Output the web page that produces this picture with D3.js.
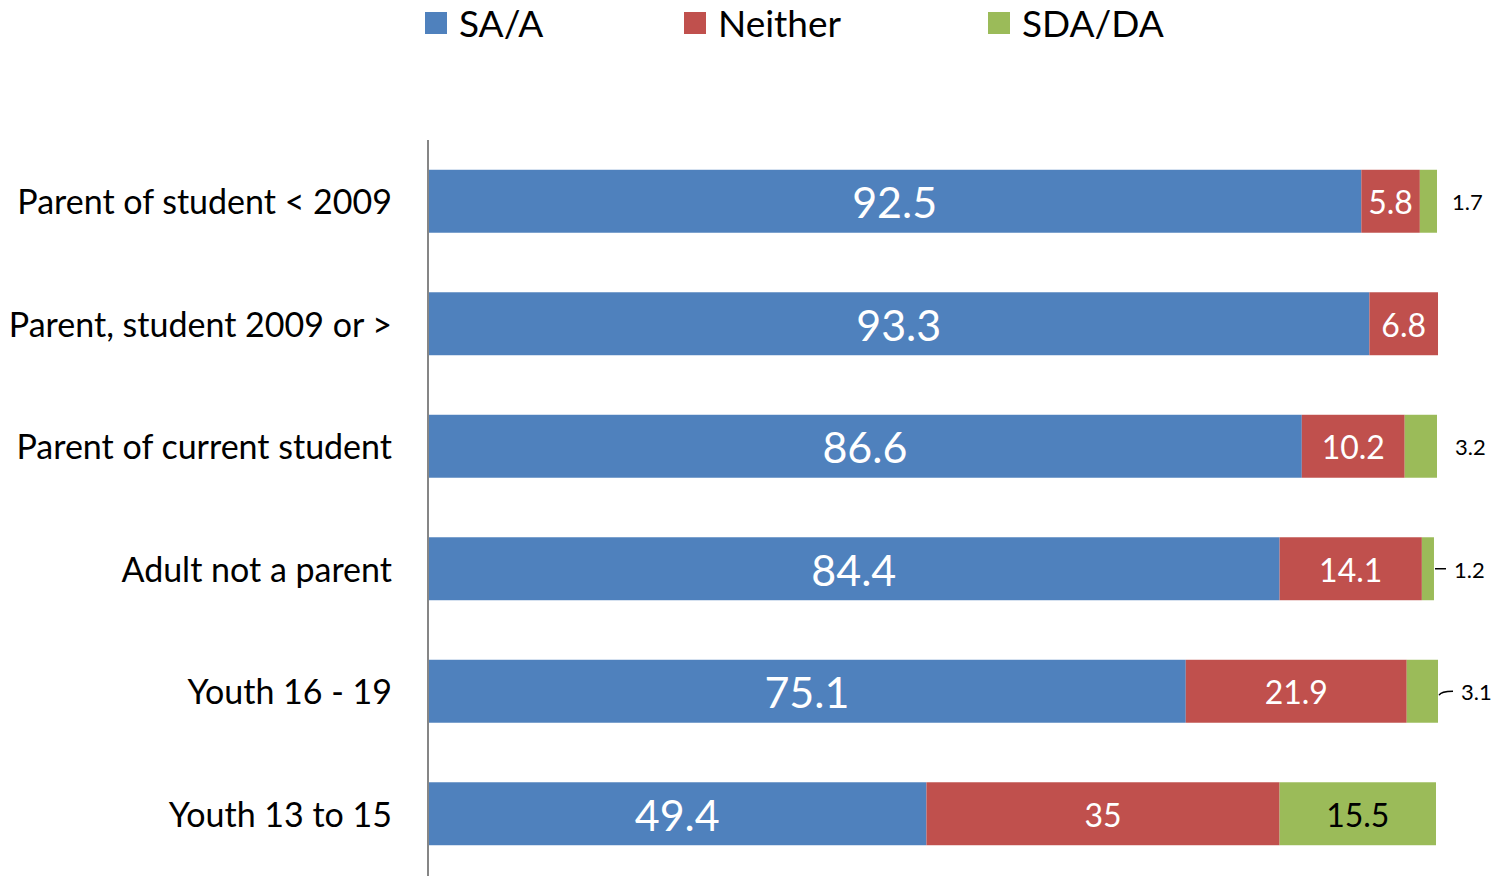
<!DOCTYPE html>
<html><head><meta charset="utf-8">
<script src="https://cdn.jsdelivr.net/npm/d3@7"></script>
<style>body{margin:0;background:#fff}svg{display:block}text{font-family:Lato,"Open Sans",sans-serif}</style>
</head><body>
<svg id="c" width="1494" height="876"></svg>
<script>
const categories = ["Parent of student < 2009","Parent, student 2009 or >","Parent of current student","Adult not a parent","Youth 16 - 19","Youth 13 to 15"];
const seriesNames = ["SA/A","Neither","SDA/DA"];
const saa = [92.5,93.3,86.6,84.4,75.1,49.4];
const neither = [5.8,6.8,10.2,14.1,21.9,35];
const sdada = [1.7,0,3.2,1.2,3.1,15.5];
const colors = ["#4F81BD","#C0504D","#9BBB59"];

const svg = d3.select("#c");
const x = d3.scaleLinear().domain([0,100]).range([428,1437]);
const y = d3.scaleBand().domain(categories).range([140,875]).paddingInner(0.486).paddingOuter(0.243);

const rows = categories.map((c,i)=>({cat:c, vals:[saa[i],neither[i],sdada[i]]}));
const segs = [];
rows.forEach(r=>{let s=0; r.vals.forEach((v,k)=>{segs.push({cat:r.cat,k,v,x0:s,x1:s+v}); s+=v;});});

svg.append("g").selectAll("rect").data(segs.filter(d=>d.v>0)).join("rect")
  .attr("x",d=>x(d.x0)).attr("width",d=>x(d.x1)-x(d.x0))
  .attr("y",d=>y(d.cat)).attr("height",y.bandwidth())
  .attr("fill",d=>colors[d.k]);

// axis line
svg.append("line").attr("x1",428).attr("x2",428).attr("y1",140).attr("y2",876).attr("stroke","#868686").attr("stroke-width",2);

// category labels
svg.append("g").selectAll("text").data(categories).join("text")
  .attr("x",392).attr("y",d=>y(d)+y.bandwidth()/2).attr("dy","0.38em")
  .attr("text-anchor","end").attr("font-size",34).attr("fill","#000").text(d=>d);

// inside labels
const inside = segs.filter(d=>d.v>0 && (x(d.x1)-x(d.x0))>40);
svg.append("g").selectAll("text").data(inside).join("text")
  .attr("x",d=>(x(d.x0)+x(d.x1))/2).attr("y",d=>y(d.cat)+y.bandwidth()/2).attr("dy","0.4em")
  .attr("text-anchor","middle").attr("font-size",d=>d.k===0?43:32)
  .attr("fill",d=>d.k===2?"#000":"#fff").text(d=>d.v);

// outside labels
const outside = segs.filter(d=>d.v>0 && (x(d.x1)-x(d.x0))<=40);
const offs = {"Parent of student < 2009":[15,false],"Parent of current student":[18,false],"Adult not a parent":[20,true],"Youth 16 - 19":[23,true]};
outside.forEach(d=>{
  const o = offs[d.cat] || [16,false];
  const cy = y(d.cat)+y.bandwidth()/2;
  const ex = x(d.x1);
  if(o[1]){
    svg.append("path").attr("d",`M${ex+1},${cy+ (d.cat==="Youth 16 - 19"?4:0)} Q${ex+3},${cy} ${ex+o[0]-8},${cy}`).attr("stroke","#000").attr("stroke-width",1.5).attr("fill","none");
  }
  svg.append("text").attr("x",ex+o[0]).attr("y",cy).attr("dy","0.4em").attr("font-size",22).attr("fill","#000").text(d.v);
});

// legend
const lx = [425,684,988];
seriesNames.forEach((n,i)=>{
  svg.append("rect").attr("x",lx[i]).attr("y",12).attr("width",22).attr("height",22).attr("fill",colors[i]);
  svg.append("text").attr("x",lx[i]+34).attr("y",23).attr("dy","0.37em").attr("font-size",37).attr("fill","#000").text(n);
});
</script>
</body></html>
